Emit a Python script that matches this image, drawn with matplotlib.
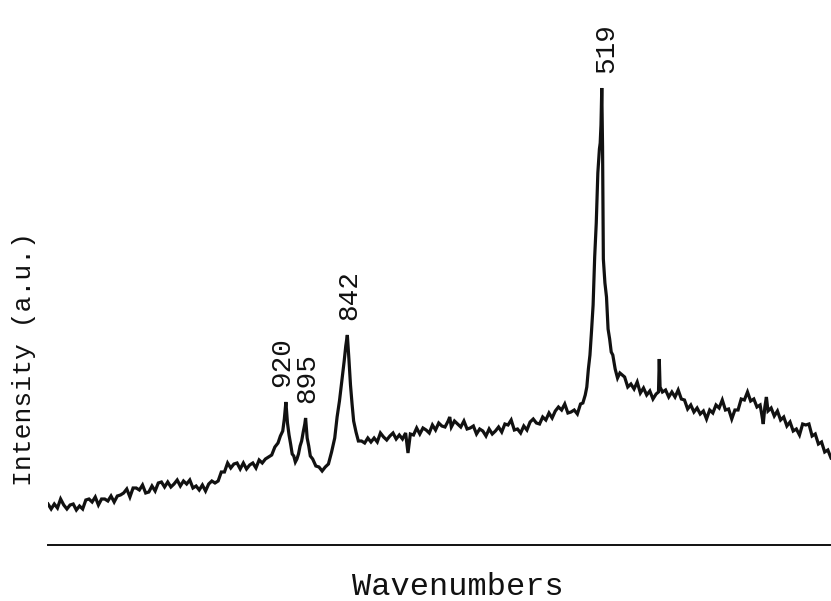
import matplotlib
matplotlib.use("Agg")
import matplotlib.pyplot as plt

# Raman spectrum (wavenumber in cm-1, intensity in a.u.)
wavenumber = [
    1222, 1218, 1214, 1210, 1206, 1202, 1198, 1194, 1190, 1186, 1182, 1178, 1174, 1170,
    1166, 1162, 1158, 1154, 1150, 1146, 1142, 1138, 1134, 1130, 1126, 1122, 1118, 1114,
    1110, 1106, 1102, 1098, 1094, 1090, 1086, 1082, 1078, 1074, 1070, 1066, 1062, 1058,
    1054, 1050, 1046, 1042, 1038, 1034, 1030, 1026, 1022, 1018, 1014, 1010, 1006, 1002,
    998, 994, 990, 986, 982, 978, 974, 970, 966, 962, 958, 954, 950,
    946, 942, 938, 934, 930, 927, 924, 922, 920, 918, 916, 914, 912, 910, 908, 906, 904,
    902, 900, 898, 896, 895, 893, 891, 889, 886, 882, 878, 874, 870, 866, 862, 858, 855,
    852, 849, 846, 844, 842, 840, 838, 836, 834, 831, 828, 824, 820,
    816, 812, 808, 804, 800, 796, 792, 788, 784, 780, 776, 772, 768, 765, 762, 758, 754,
    750, 746, 742, 738, 734, 730, 726, 722, 718, 714, 712, 710, 706, 702, 698, 694, 690,
    686, 682, 678, 674, 670, 666, 662, 658, 654, 650, 646, 642, 638, 634, 630, 626, 622,
    618, 614, 610, 606, 602, 598, 594, 590, 586, 582, 578, 574, 570, 566, 562, 558, 554,
    550, 546, 543, 540, 538, 536, 534, 532, 530, 528, 526, 524, 522, 521, 520, 519, 518,
    517, 515, 513, 511, 509, 507, 505, 502, 499, 496, 493, 490, 486, 482, 478, 474, 470,
    466, 462, 458, 454, 450, 447, 446, 445, 442, 438, 434, 430, 426, 422, 418, 414, 410,
    406, 402, 398, 394, 390, 386, 382, 378, 374, 370, 366, 362, 358, 354, 350, 346, 342,
    338, 334, 330, 326, 322, 318, 316, 314, 312, 310, 308, 304, 300, 296, 292, 288, 284,
    280, 276, 272, 268, 264, 260, 256, 252, 248, 244, 240, 236, 232, 228,
]

intensity = [
    41, 36, 41, 37, 46, 40, 36, 40, 41, 35, 39, 36, 45, 46,
    43, 48, 40, 46, 46, 44, 49, 43, 49, 50, 52, 56, 48, 57,
    57, 55, 60, 52, 53, 59, 54, 62, 63, 58, 63, 58, 61, 65,
    59, 64, 61, 65, 57, 59, 55, 60, 54, 61, 64, 62, 64, 73,
    73, 82, 77, 81, 82, 76, 82, 76, 80, 82, 77, 85, 82,
    86, 88, 90, 98, 102, 109, 114, 126, 143, 122, 110, 101, 91, 89, 83, 86, 91,
    99, 104, 113, 121, 127, 107, 99, 89, 86, 79, 78, 74, 78, 81, 93, 107, 128,
    144, 164, 184, 199, 210, 186, 160, 141, 124, 113, 104, 104, 102,
    107, 103, 107, 103, 112, 108, 105, 109, 112, 106, 110, 106, 112, 92, 111, 110, 117,
    111, 117, 115, 112, 120, 115, 122, 119, 118, 124, 128, 118, 124, 121, 118, 124, 116,
    117, 119, 111, 116, 114, 109, 116, 111, 114, 118, 113, 121, 120, 125, 115, 116, 112,
    119, 115, 123, 126, 122, 121, 128, 125, 132, 127, 134, 138, 135, 141, 132, 133, 135,
    131, 141, 142, 150, 158, 176, 190, 214, 240, 288, 322, 372, 396, 402, 420, 457, 398,
    286, 262, 248, 216, 206, 193, 190, 176, 167, 172, 170, 168, 158, 161, 156, 163, 152,
    157, 150, 154, 146, 151, 153, 186, 158, 153, 155, 148, 153, 148, 155, 146, 145, 136,
    140, 133, 137, 131, 134, 126, 135, 132, 140, 137, 145, 135, 136, 126, 135, 135, 146,
    145, 153, 144, 146, 138, 140, 131, 121, 138, 148, 134, 137, 129, 134, 125, 128, 119,
    123, 114, 116, 110, 121, 120, 121, 109, 111, 101, 103, 93, 95, 87,
]

peak_positions = [920, 895, 842, 519]
peak_heights = [143, 127, 210, 457]
peak_labels = ["920", "895", "842", "519"]

mono = ["Liberation Mono", "DejaVu Sans Mono"]

fig = plt.figure(figsize=(8.31, 6.01), dpi=100)
ax = fig.add_axes([48 / 831, 56 / 601, 783 / 831, 545 / 601])

ax.plot(wavenumber, intensity, color="#111111", lw=2.3, solid_joinstyle="miter")

ax.set_xlim(1222, 228)
ax.set_ylim(0, 545)

for s in ("top", "right", "left"):
    ax.spines[s].set_visible(False)
ax.spines["bottom"].set_linewidth(1.4)
ax.spines["bottom"].set_color("#111111")
ax.set_xticks([])
ax.set_yticks([])

nudges = [-4, 2, 2, 4]
for xp, yp, lab, dx in zip(peak_positions, peak_heights, peak_labels, nudges):
    ax.annotate(lab, xy=(xp, yp), xytext=(dx * 0.72, 11), textcoords="offset points",
                rotation=90, ha="center", va="bottom", fontsize=20,
                family=mono, color="#111111")

fig.text(458 / 831, 1 - 587 / 601, "Wavenumbers", ha="center", va="center",
         fontsize=23, family=mono, color="#111111")
fig.text(24 / 831, 1 - 359 / 601, "Intensity (a.u.)", ha="center", va="center",
         rotation=90, fontsize=19, family=mono, color="#111111")

fig.savefig("out.png", dpi=100, facecolor="white")
